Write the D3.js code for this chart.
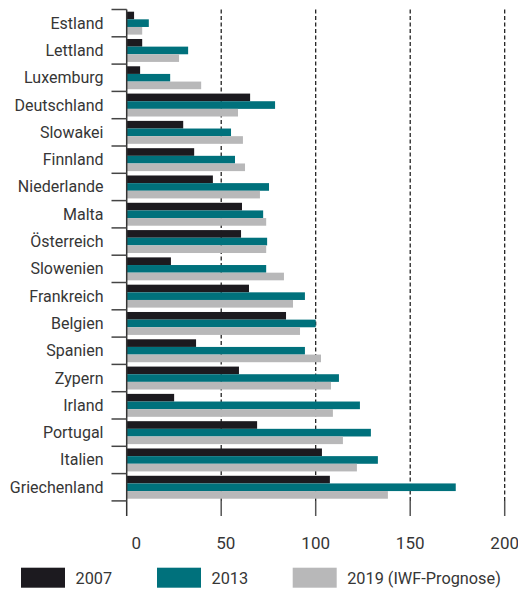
<!DOCTYPE html>
<html>
<head>
<meta charset="utf-8">
<script src="https://cdn.jsdelivr.net/npm/d3@7"></script>
<style>
  html, body { margin: 0; padding: 0; background: #fff; }
  svg { display: block; }
  text { font-family: Roboto, "Open Sans", sans-serif; fill: #363636; }
</style>
</head>
<body>
<svg id="chart" width="518" height="591"></svg>
<script>
const categories = ["Estland","Lettland","Luxemburg","Deutschland","Slowakei","Finnland","Niederlande","Malta","Österreich","Slowenien","Frankreich","Belgien","Spanien","Zypern","Irland","Portugal","Italien","Griechenland"];
const series = ["2007", "2013", "2019 (IWF-Prognose)"];
const values2007 = [3.9, 8.2, 7.1, 65.3, 29.9, 35.7, 45.6, 61.0, 60.5, 23.4, 64.7, 84.3, 36.7, 59.4, 25.1, 69.0, 103.3, 107.5];
const values2013 = [11.7, 32.5, 23.0, 78.5, 55.2, 57.3, 75.3, 72.2, 74.3, 73.8, 94.3, 100.0, 94.3, 112.3, 123.4, 129.2, 132.9, 174.1];
const values2019 = [8.2, 27.7, 39.4, 58.9, 61.5, 62.6, 70.5, 73.8, 73.8, 83.2, 88.0, 91.7, 102.8, 108.1, 109.1, 114.4, 121.8, 138.2];
const xTicks = [0, 50, 100, 150, 200];
const colors = ["#1c1a1f", "#00717c", "#b8b8b9"];

const data = categories.map((c, i) => ({ cat: c, vals: [values2007[i], values2013[i], values2019[i]] }));

const svg = d3.select("#chart");
const x = d3.scaleLinear().domain([0, 200]).range([126.7, 504.7]);
const y = d3.scaleBand().domain(categories).range([9.5, 500.9]).paddingInner(0.16).paddingOuter(0.08);
const ySub = d3.scaleBand().domain(d3.range(3)).range([0, y.bandwidth()]);
const gridTop = 9.5, gridBottom = 500.9, axisBottom = 516;

// dashed grid lines
svg.append("g").selectAll("line").data(xTicks.filter(t => t > 0)).join("line")
  .attr("x1", d => x(d)).attr("x2", d => x(d))
  .attr("y1", gridTop).attr("y2", gridBottom)
  .attr("stroke", "#111").attr("stroke-width", 1.2).attr("stroke-dasharray", "4,2.5");

// solid bottom ticks
svg.append("g").selectAll("line").data(xTicks.filter(t => t > 0)).join("line")
  .attr("x1", d => x(d)).attr("x2", d => x(d))
  .attr("y1", gridBottom).attr("y2", axisBottom)
  .attr("stroke", "#555").attr("stroke-width", 1.5);

// bars
const groups = svg.append("g").selectAll("g").data(data).join("g")
  .attr("transform", d => `translate(0,${y(d.cat)})`);
groups.selectAll("rect").data(d => d.vals).join("rect")
  .attr("x", x(0)).attr("y", (d, i) => ySub(i))
  .attr("width", d => x(d) - x(0)).attr("height", ySub.bandwidth())
  .attr("fill", (d, i) => colors[i]);

// y axis line and category boundary ticks
svg.append("line").attr("x1", x(0)).attr("x2", x(0)).attr("y1", gridTop).attr("y2", axisBottom)
  .attr("stroke", "#333").attr("stroke-width", 1.5);
const boundaries = d3.range(categories.length + 1).map(i => 9.5 + i * y.step());
svg.append("g").selectAll("line").data(boundaries).join("line")
  .attr("x1", 111.5).attr("x2", x(0)).attr("y1", d => d).attr("y2", d => d)
  .attr("stroke", "#444").attr("stroke-width", 1.5);

// category labels
svg.append("g").selectAll("text").data(categories).join("text")
  .attr("x", 103.5).attr("y", d => y(d) + y.bandwidth() / 2)
  .attr("text-anchor", "end").attr("dominant-baseline", "central")
  .attr("font-size", 16).text(d => d);

// x tick labels
const tickDx = { 0: 9.5, 50: 4.5, 100: 0, 150: 0, 200: 0 };
svg.append("g").selectAll("text").data(xTicks).join("text")
  .attr("x", d => x(d) + tickDx[d]).attr("y", 543)
  .attr("text-anchor", "middle").attr("dominant-baseline", "central")
  .attr("font-size", 17).text(d => d);

// legend
const legendX = [21, 157, 292.7];
const lg = svg.append("g").selectAll("g").data(series).join("g")
  .attr("transform", (d, i) => `translate(${legendX[i]},567.7)`);
lg.append("rect").attr("width", 44).attr("height", 20).attr("fill", (d, i) => colors[i]);
lg.append("text").attr("x", 54.5).attr("y", 10.5).attr("dominant-baseline", "central")
  .attr("font-size", 16.3).text(d => d);
</script>
</body>
</html>
